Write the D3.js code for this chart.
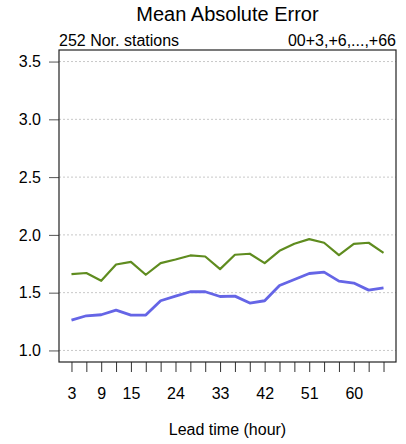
<!DOCTYPE html>
<html>
<head>
<meta charset="utf-8">
<script src="https://cdn.jsdelivr.net/npm/d3@7"></script>
<style>
html,body{margin:0;padding:0;background:#fff;}
text{font-family:"Liberation Sans",Arial,Helvetica,sans-serif;fill:#000;}
</style>
</head>
<body>
<svg id="chart" width="406" height="444"></svg>
<script>
const leadTimes = [3,6,9,12,15,18,21,24,27,30,33,36,39,42,45,48,51,54,57,60,63,66];
const greenSeries = [1.661,1.670,1.603,1.744,1.767,1.655,1.756,1.787,1.822,1.813,1.704,1.828,1.837,1.756,1.862,1.923,1.963,1.932,1.825,1.923,1.932,1.845];
const blueSeries = [1.263,1.300,1.309,1.349,1.306,1.306,1.430,1.470,1.508,1.508,1.467,1.470,1.410,1.430,1.562,1.614,1.666,1.678,1.600,1.583,1.522,1.542];
const xLabels = [3,9,15,24,33,42,51,60];
const yTicks = [1.0,1.5,2.0,2.5,3.0,3.5];
const titleText = "Mean Absolute Error";
const subLeft = "252 Nor. stations";
const subRight = "00+3,+6,...,+66";
const xTitle = "Lead time (hour)";

const svg = d3.select("#chart");
const L = 59, R = 396, T = 50, B = 362;
const x = d3.scaleLinear().domain([0.48, 68.52]).range([L, R]);
const y = d3.scaleLinear().domain([0.9, 3.6]).range([B, T]);

// grid
svg.append("g").selectAll("line").data(yTicks).join("line")
  .attr("x1", L).attr("x2", R)
  .attr("y1", d => y(d)).attr("y2", d => y(d))
  .attr("stroke", "#c8c8c8").attr("stroke-width", 1).attr("stroke-dasharray", "2,2");

// y axis
const yAxis = svg.append("g").attr("transform", `translate(${L},0)`)
  .call(d3.axisLeft(y).tickValues(yTicks).tickFormat(d3.format(".1f")).tickSize(10).tickPadding(8));
yAxis.select(".domain").remove();
yAxis.selectAll("line").attr("stroke", "#555");
yAxis.selectAll("text").attr("font-size", 16).attr("fill", "#000")
  .attr("font-family", '"Liberation Sans",Arial,sans-serif');

// x axis ticks
const xAxis = svg.append("g").attr("transform", `translate(0,${B})`)
  .call(d3.axisBottom(x).tickValues(leadTimes).tickFormat("").tickSize(10));
xAxis.select(".domain").remove();
xAxis.selectAll("line").attr("stroke", "#333");

// x labels
const xLab = svg.append("g").attr("transform", `translate(0,${B})`)
  .call(d3.axisBottom(x).tickValues(xLabels).tickSize(0).tickPadding(26));
xLab.select(".domain").remove();
xLab.selectAll("text").attr("font-size", 16).attr("fill", "#000")
  .attr("font-family", '"Liberation Sans",Arial,sans-serif');

// lines
const line = d3.line().x((d, i) => x(leadTimes[i])).y(d => y(d));
svg.append("path").datum(greenSeries).attr("d", line)
  .attr("fill", "none").attr("stroke", "#5f8c1f").attr("stroke-width", 2.2).attr("stroke-linejoin", "round");
svg.append("path").datum(blueSeries).attr("d", line)
  .attr("fill", "none").attr("stroke", "#6565e6").attr("stroke-width", 2.8).attr("stroke-linejoin", "round");

// box
svg.append("rect").attr("x", L).attr("y", T).attr("width", R - L).attr("height", B - T)
  .attr("fill", "none").attr("stroke", "#222").attr("stroke-width", 1.2);

// titles
svg.append("text").attr("x", (L + R) / 2).attr("y", 21).attr("text-anchor", "middle")
  .attr("font-size", 20).text(titleText);
svg.append("text").attr("x", L).attr("y", 46).attr("font-size", 16).text(subLeft);
svg.append("text").attr("x", R).attr("y", 46).attr("text-anchor", "end").attr("font-size", 16).text(subRight);
svg.append("text").attr("x", (L + R) / 2).attr("y", 435).attr("text-anchor", "middle")
  .attr("font-size", 16).text(xTitle);
</script>
</body>
</html>
